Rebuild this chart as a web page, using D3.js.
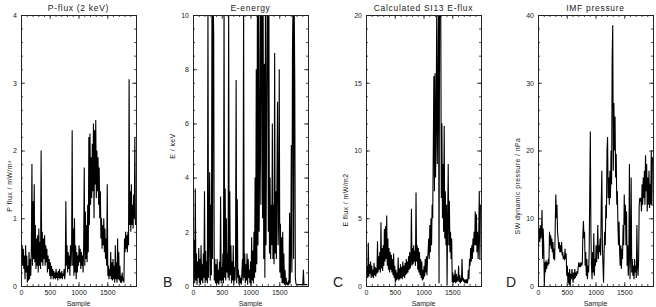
<!DOCTYPE html>
<html>
<head>
<meta charset="utf-8">
<script src="https://cdn.jsdelivr.net/npm/d3@7"></script>
<style>
  body { margin: 0; background: #fff; }
  svg { display: block; }
  text { font-family: "Liberation Sans", Arial, sans-serif; fill: #222; }
</style>
</head>
<body>
<svg id="chart" width="656" height="307"></svg>
<script>
// samples are every 10 points, 0 .. 1990
const sampleStep = 10;

const pFlux = [
  0.85, 0.35, 0.6, 0.3, 0.55, 0.25, 0.45, 0.1, 0.6, 0.2,
  0.45, 0.05, 0.3, 0.08, 0.5, 0.1, 0.4, 0.15, 0.55, 1.8,
  0.3, 1.25, 0.4, 1.5, 0.35, 0.9, 0.25, 0.7, 0.3, 0.75,
  0.2, 0.85, 0.3, 0.65, 0.25, 2.0, 0.35, 0.8, 0.3, 0.7,
  0.4, 0.75, 0.3, 0.6, 0.35, 0.55, 0.2, 0.45, 0.25, 0.4,
  0.15, 0.35, 0.1, 0.3, 0.15, 0.25, 0.1, 0.22, 0.12, 0.2,
  0.1, 0.25, 0.12, 0.2, 0.08, 0.22, 0.12, 0.25, 0.1, 0.2,
  0.12, 0.22, 0.1, 0.18, 0.15, 0.25, 0.1, 0.2, 1.25, 0.3,
  0.6, 0.2, 0.5, 0.25, 0.45, 0.15, 0.6, 0.3, 0.55, 2.3,
  0.3, 0.85, 0.15, 1.0, 0.2, 0.6, 0.1, 0.5, 0.2, 0.45,
  0.3, 0.6, 0.35, 0.55, 0.25, 0.5, 0.3, 0.45, 0.2, 0.6,
  1.75, 0.3, 1.1, 0.4, 0.9, 0.35, 1.2, 0.5, 2.2, 0.9,
  2.25, 1.2, 1.9, 1.3, 2.1, 1.4, 2.4, 1.0, 2.3, 1.5,
  2.45, 1.3, 2.0, 1.4, 1.9, 1.2, 1.75, 1.0, 1.4, 0.7,
  1.0, 0.55, 0.9, 0.6, 1.0, 0.5, 0.85, 0.4, 0.7, 0.3,
  1.5, 0.15, 0.3, 0.1, 0.25, 0.15, 0.5, 0.1, 0.35, 0.08,
  0.4, 0.1, 0.3, 0.05, 0.6, 0.1, 0.35, 0.05, 0.7, 0.1,
  0.5, 0.08, 0.3, 0.05, 0.15, 0.05, 0.2, 0.08, 0.12, 0.05,
  0.7, 0.5, 0.8, 0.55, 0.75, 0.5, 0.8, 0.6, 3.05, 0.9,
  1.4, 0.8, 1.5, 0.9, 1.2, 0.85, 1.35, 1.0, 2.2, 0.9
];

const eEnergy = [
  5.0, 0.3, 1.7, 0.1, 3.6, 0.2, 1.2, 0.05, 0.9, 0.3,
  1.4, 0.1, 1.0, 0.05, 1.5, 0.2, 0.8, 0.1, 1.2, 0.3,
  3.5, 0.1, 1.3, 0.2, 0.9, 0.1, 10.5, 0.3, 1.8, 4.2,
  0.2, 3.0, 0.4, 10.5, 1.0, 10.5, 9.3, 0.2, 1.0, 0.1,
  0.8, 0.05, 1.0, 0.1, 0.6, 0.05, 0.9, 0.2, 3.3, 0.1,
  0.7, 0.2, 1.2, 0.1, 10.5, 0.3, 3.6, 0.2, 2.5, 0.5,
  1.2, 0.3, 10.5, 0.2, 3.5, 0.4, 1.5, 0.1, 0.9, 0.2,
  1.5, 0.05, 0.7, 0.2, 1.0, 7.6, 0.1, 3.2, 0.3, 0.6,
  0.05, 0.4, 0.1, 0.3, 0.05, 0.5, 1.0, 0.2, 10.5, 0.3,
  1.2, 0.1, 0.8, 0.2, 1.2, 0.05, 1.0, 0.3, 0.6, 0.1,
  0.9, 0.05, 1.8, 0.2, 1.3, 0.1, 2.0, 0.3, 4.0, 0.5,
  8.0, 0.8, 10.5, 1.5, 10.5, 2.0, 5.0, 10.5, 3.0, 10.5,
  10.5, 2.5, 10.5, 1.0, 8.2, 0.3, 10.5, 1.5, 6.0, 10.5,
  10.5, 2.0, 10.5, 1.2, 4.0, 1.0, 3.0, 1.5, 6.0, 1.0,
  3.0, 0.8, 8.6, 1.2, 3.5, 1.0, 4.0, 6.8, 1.5, 2.5,
  8.0, 0.5, 2.3, 0.3, 1.8, 0.1, 2.0, 0.1, 1.2, 0.05,
  0.6, 0.05, 0.3, 0.05, 0.1, 0.05, 0.2, 0.05, 2.7, 0.1,
  1.2, 5.2, 0.5, 8.7, 10.5, 1.0, 10.5, 7.4, 0.3, 0.1,
  0.05, 0.05, 0.05, 0.05, 0.05, 0.05, 0.05, 0.05, 0.05, 0.05,
  0.05, 0.05, 0.6, 0.05, 0.05, 0.05, 0.05, 0.05, 0.05, 0.05
];

const eFlux = [
  3.0, 0.8, 1.5, 0.6, 3.2, 0.7, 1.6, 0.9, 1.8, 0.6,
  1.5, 0.7, 1.2, 0.6, 1.7, 0.8, 1.4, 0.7, 1.3, 0.9,
  3.3, 1.0, 2.2, 1.2, 2.5, 1.0, 4.7, 1.3, 2.8, 1.1,
  3.0, 1.5, 4.2, 1.8, 4.4, 2.0, 5.2, 1.5, 3.5, 1.2,
  2.8, 1.0, 2.5, 1.2, 2.3, 1.0, 2.0, 0.8, 2.4, 0.6,
  1.5, 0.3, 1.2, 0.4, 1.0, 0.5, 2.1, 0.4, 1.3, 0.5,
  1.6, 0.6, 1.4, 0.5, 1.8, 0.7, 1.5, 0.6, 1.7, 0.8,
  2.0, 0.9, 1.8, 1.0, 2.2, 1.2, 2.5, 1.3, 1.8, 5.7,
  1.5, 2.8, 1.6, 3.0, 1.8, 2.6, 1.5, 6.9, 1.8, 3.0,
  1.2, 2.8, 1.0, 2.5, 0.8, 2.0, 0.6, 1.8, 0.4, 1.2,
  0.5, 1.5, 0.7, 2.0, 1.0, 2.2, 0.8, 2.0, 2.5, 3.5,
  2.0, 4.5, 2.5, 5.0, 3.0, 6.0, 5.0, 10.0, 15.5, 7.0,
  15.7, 8.0, 12.0, 20.5, 9.0, 14.0, 20.5, 0.2, 20.5, 20.5,
  20.5, 6.5, 12.0, 5.0, 9.0, 4.0, 11.8, 3.5, 7.0, 3.0,
  6.0, 0.1, 5.0, 9.0, 3.0, 6.3, 2.5, 4.0, 2.0, 3.5,
  0.3, 1.0, 0.2, 0.8, 0.3, 1.2, 0.2, 0.9, 0.3, 0.7,
  0.4, 1.5, 0.3, 0.8, 0.2, 0.6, 0.3, 2.0, 0.4, 0.6,
  0.3, 0.5, 0.2, 0.4, 0.3, 0.5, 0.2, 0.4, 1.2, 0.5,
  2.0, 1.5, 2.8, 1.8, 3.0, 2.0, 3.5, 2.5, 4.0, 3.0,
  5.5, 3.0, 5.3, 2.5, 4.0, 2.0, 3.5, 7.0, 2.0, 6.0
];

const swPressure = [
  9.5, 6.0, 8.5, 6.5, 9.0, 7.0, 8.0, 11.2, 4.0, 8.5,
  6.0, 0.0, 3.5, 2.0, 3.8, 2.5, 3.5, 3.0, 4.0, 3.2,
  8.0, 6.0, 7.5, 5.5, 7.0, 5.0, 6.5, 4.0, 5.5, 3.8,
  9.0, 13.5, 10.0, 12.0, 8.0, 7.0, 5.5, 6.5, 5.0, 6.0,
  5.0, 6.5, 4.5, 5.0, 4.0, 4.5, 3.8, 5.5, 4.0, 4.8,
  1.5, 3.0, 0.5, 2.0, 0.2, 2.5, 0.0, 1.8, 1.0, 2.5,
  1.5, 0.5, 2.0, 1.0, 2.5, 1.2, 2.0, 1.5, 2.2, 1.8,
  2.8, 3.5, 3.0, 3.2, 2.8, 3.5, 3.0, 3.3, 7.5, 9.6,
  7.0, 8.0, 3.0, 5.0, 1.5, 4.0, 1.0, 3.0, 2.0, 5.0,
  14.0, 22.8, 8.0, 3.0, 1.0, 5.0, 2.0, 7.8, 1.5, 4.0,
  3.0, 6.0, 3.5, 5.5, 9.0, 4.0, 6.0, 5.0, 7.0, 4.5,
  12.0, 17.0, 6.0, 3.0, 0.5, 5.0, 8.0, 6.0, 12.0, 10.0,
  20.0, 22.0, 13.0, 16.0, 12.0, 17.0, 13.0, 20.0, 15.0, 34.0,
  38.5, 17.0, 27.0, 20.0, 25.0, 16.0, 19.5, 12.0, 14.0, 9.0,
  6.0, 9.5, 5.0, 3.0, 6.0, 2.5, 5.5, 4.0, 9.0, 6.0,
  13.5, 9.0, 12.0, 6.0, 11.0, 3.0, 6.0, 1.5, 4.0, 18.0,
  1.0, 5.0, 16.0, 2.0, 4.0, 1.5, 3.0, 1.0, 4.0, 2.0,
  3.0, 1.2, 9.0, 3.0, 1.5, 4.0, 12.0, 13.0, 12.5, 13.0,
  11.0, 15.0, 12.0, 16.0, 13.0, 17.0, 12.0, 19.3, 14.0, 18.0,
  11.0, 16.0, 12.0, 17.0, 11.5, 15.0, 12.0, 20.0, 12.0, 19.0
];

const titles = ["P-flux (2 keV)", "E-energy", "Calculated SI13 E-flux", "IMF pressure"];
const yLabels = ["P flux / mW/m\u00b2", "E / keV", "E flux / mW/m2", "SW dynamic pressure / nPa"];
const letters = ["", "B", "C", "D"];
const yMax = [4, 10, 20, 40];
const yMajorStep = [1, 2, 5, 10];
const yMinorStep = [0.2, 0.5, 1, 2];
const xTicks = [0, 500, 1000, 1500];
const series = [pFlux, eEnergy, eFlux, swPressure];

const svg = d3.select('#chart');

// layout of the four frames
const frameLeft = [21, 193, 366, 538];
const frameW = 115;
const plotTop = 15, plotBottom = 286;
const yLabelPos = [[10, 186], [173, 146], [346, 200], [518, 186]];
const letterX = [0, 163, 333, 506];

const x = d3.scaleLinear().domain([0, 2000]).range([0, frameW]);
const xMinor = d3.range(0, 2001, 100);

series.forEach(function(data, k) {
	const g = svg.append('g').attr('transform', `translate(${frameLeft[k]},${plotTop})`);
	const h = plotBottom - plotTop;
	const y = d3.scaleLinear().domain([0, yMax[k]]).range([h, 0]);
	const yMajor = d3.range(0, yMax[k] + 1e-9, yMajorStep[k]);
	const yMin = d3.range(0, yMax[k] + 1e-9, yMinorStep[k]);

	g.append('clipPath').attr('id', 'clip' + k)
	.append('rect').attr('width', frameW).attr('height', h);

	const line = d3.line()
	.x((d, i) => x(i * sampleStep))
	.y(d => y(d));

	g.append('path')
	.datum(data)
	.attr('clip-path', `url(#clip${k})`)
	.attr('d', line)
	.attr('fill', 'none')
	.attr('stroke', '#000')
	.attr('stroke-width', 1.1)
	.attr('stroke-linejoin', 'miter');

	// IDL style box: ticks inside on every side
	function axis(gen, tx, ty, vals, size, fmt) {
		const a = g.append('g').attr('transform', `translate(${tx},${ty})`)
		.call(gen.tickValues(vals).tickSize(-size).tickPadding(4).tickFormat(fmt));
		a.select('.domain').attr('stroke', '#222').attr('stroke-width', 0.9);
		a.selectAll('line').attr('stroke', '#222').attr('stroke-width', 0.8);
		a.selectAll('text').attr('font-size', 7).attr('fill', '#333')
		.style('font-family', '"Liberation Sans", Arial, sans-serif');
		return a;
	}
	axis(d3.axisBottom(x), 0, h, xTicks, 4, d3.format('d'));
	axis(d3.axisBottom(x), 0, h, xMinor, 2, '');
	axis(d3.axisTop(x), 0, 0, xTicks, 4, '');
	axis(d3.axisTop(x), 0, 0, xMinor, 2, '');
	axis(d3.axisLeft(y), 0, 0, yMajor, 4, d3.format('d'));
	axis(d3.axisLeft(y), 0, 0, yMin, 2, '');
	axis(d3.axisRight(y), frameW, 0, yMajor, 4, '');
	axis(d3.axisRight(y), frameW, 0, yMin, 2, '');

	svg.append('text')
	.attr('x', frameLeft[k] + frameW / 2).attr('y', 11)
	.attr('text-anchor', 'middle').attr('font-size', 8.5)
	.attr('letter-spacing', 0.7).attr('fill', '#333')
	.text(titles[k]);

	svg.append('text')
	.attr('transform', `translate(${yLabelPos[k][0]},${yLabelPos[k][1]}) rotate(-90)`)
	.attr('text-anchor', 'middle').attr('dy', '0.35em').attr('font-size', 7)
	.attr('letter-spacing', 0.4).attr('fill', '#333')
	.text(yLabels[k]);

	svg.append('text')
	.attr('x', frameLeft[k] + frameW / 2).attr('y', 306)
	.attr('text-anchor', 'middle').attr('font-size', 7).attr('fill', '#333')
	.text('Sample');

	if (letters[k]) {
		svg.append('text')
		.attr('x', letterX[k]).attr('y', 287)
		.attr('font-size', 14).attr('fill', '#111')
		.text(letters[k]);
	}
});
</script>
</body>
</html>
